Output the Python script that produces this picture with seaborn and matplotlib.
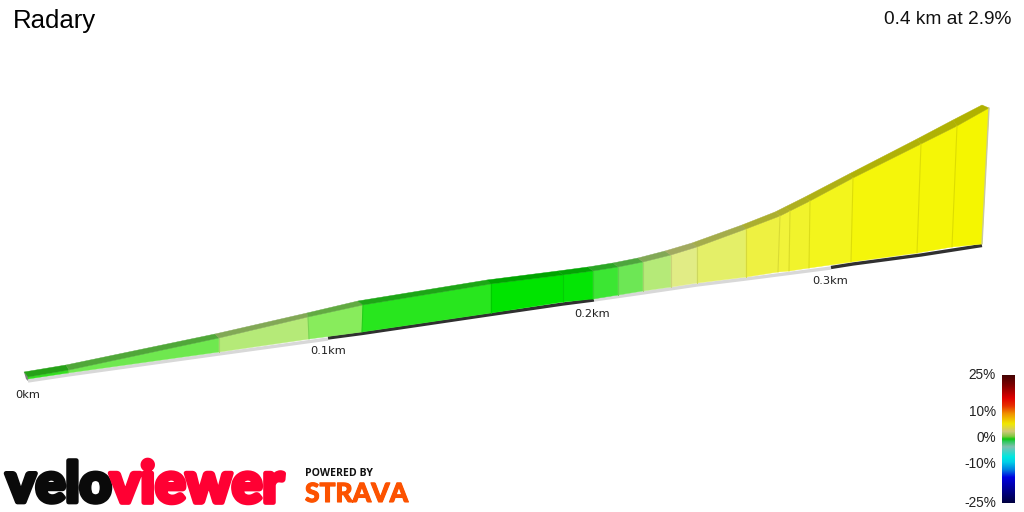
import numpy as np
import pandas as pd
import matplotlib
matplotlib.use("Agg")
import matplotlib.pyplot as plt
import matplotlib.patheffects as pe
from matplotlib.colors import LinearSegmentedColormap, to_rgb
import seaborn as sns

TITLE = "Radary"
SUMMARY = "0.4 km at 2.9%"

# Profile (pixel-space projection of the 3D ribbon)
base_x = [28, 68, 219, 309, 362, 491, 563, 593, 618, 643, 671, 697, 746, 778, 789, 809, 851, 917, 952, 982]
base_y = [379, 373, 352, 339, 332, 313, 302, 299, 295, 291, 287, 283, 277, 272, 271, 268, 262, 253, 247, 244]
top_x = [28, 69, 219, 308, 363, 491, 563, 593, 618, 643, 671, 697, 746, 780, 790, 810, 853, 921, 957, 989]
top_y = [377, 370, 338, 317, 305, 284, 275, 271, 267, 262, 255, 247, 229, 216, 211, 201, 178, 144, 126, 108]
back_x = [24, 66, 215, 307, 358, 487, 558, 588, 613, 638, 665, 692, 742, 775, 785, 805, 849, 917, 953, 982]
back_y = [372, 365, 334, 313, 301, 280, 271, 267, 263, 258, 251, 243, 225, 212, 207, 197, 174, 139, 120, 105]
segment_colors = ["#35df20", "#6fe84f", "#b5ea78", "#88ec5c", "#28e61e", "#00e400", "#04e505",
                  "#3ce633", "#6de755", "#b5ea78", "#e1ec85", "#e4ef68", "#eef141", "#f1f33a",
                  "#f1f32c", "#f3f51c", "#f5f60a", "#f5f606", "#f5f600"]

# Road strip under the ribbon, alternating every 0.1 km
strip_x = [[28, 68, 219, 328], [328, 362, 491, 563, 594], [594, 643, 697, 746, 831], [831, 853, 921, 982]]
strip_y = [[381, 375, 354, 339], [338, 333.5, 314.5, 304, 300], [300, 293, 285, 279, 268], [267.5, 264, 255, 245.5]]
strip_colors = ["#d8d8d8", "#303030", "#d8d8d8", "#303030"]

km_labels = ["0km", "0.1km", "0.2km", "0.3km"]
km_x = [28, 328, 592, 830]
km_y = [395, 351, 314, 281]

scale_ticks = [25, 10, 0, -10, -25]
scale_tick_y = [375, 412.5, 438.5, 463.5, 503]
scale_grades = [25, 21, 16, 13, 10, 6, 3, 1, 0, -1, -3, -7, -9, -12, -15, -19, -25]
scale_colors = ["#440404", "#800000", "#e00000", "#e83000", "#f09000", "#f0e800", "#d0c878", "#80c840", "#10c810",
                "#30c860", "#80c0b0", "#00e8e0", "#00d0e8", "#0080e0", "#0000e0", "#0000a0", "#000040"]

sns.set_theme(style="white", rc={"axes.facecolor": "white", "figure.facecolor": "white"})
plt.rcParams["font.family"] = ["Liberation Sans", "DejaVu Sans"]

fig = plt.figure(figsize=(10.24, 5.12), dpi=100)
ax = fig.add_axes([0, 0, 1, 1])
ax.set_xlim(0, 1024)
ax.set_ylim(512, 0)
ax.axis("off")


def shade(color, k):
    return tuple(np.clip(np.array(to_rgb(color)) * k, 0, 1))


# End cap at the start of the ribbon
ax.fill([24, 28, 29, 26], [372, 377, 382, 379], color="#808080", lw=0)

# Road strip
for xs, ys, c in zip(strip_x, strip_y, strip_colors):
    sns.lineplot(data=pd.DataFrame({"x": xs, "y": ys}), x="x", y="y", sort=False, color=c,
                 linewidth=2.4, ax=ax, solid_capstyle="butt", errorbar=None, estimator=None)

# Ribbon faces and top band
for i, c in enumerate(segment_colors):
    ax.fill([base_x[i], base_x[i + 1], top_x[i + 1], top_x[i]],
            [base_y[i], base_y[i + 1], top_y[i + 1], top_y[i]],
            facecolor=c, edgecolor=c, lw=0.3, zorder=3)
    band = shade(c, 0.72)
    ax.fill([top_x[i], top_x[i + 1], back_x[i + 1], back_x[i]],
            [top_y[i], top_y[i + 1], back_y[i + 1], back_y[i]],
            facecolor=band, edgecolor=band, lw=0.3, zorder=3)
    if i > 0:
        ax.plot([base_x[i], top_x[i]], [base_y[i], top_y[i]], color=shade(c, 0.9), lw=0.8, zorder=4)

# Right edge of the ribbon
ax.plot([top_x[-1], base_x[-1]], [top_y[-1], base_y[-1]], color="#c8c8a0", lw=1.0, zorder=4)

# Distance labels
for lab, x, y in zip(km_labels, km_x, km_y):
    ax.text(x, y, lab, ha="center", va="center", fontsize=8.2, family="DejaVu Sans", color="#202020", zorder=5)

# Titles
ax.text(13, 21, TITLE, ha="left", va="center", fontsize=18.5, color="black")
ax.text(1011, 19, SUMMARY, ha="right", va="center", fontsize=13.8, color="#111111")

# Grade colour scale
cmap = LinearSegmentedColormap.from_list(
    "grade", [((25 - g) / 50, c) for g, c in zip(scale_grades, scale_colors)])
ax.imshow(np.linspace(0, 1, 256)[:, None], cmap=cmap, aspect="auto", extent=(1002, 1015, 503, 375), zorder=2)
ax.set_xlim(0, 1024)
ax.set_ylim(512, 0)
for t, y in zip(scale_ticks, scale_tick_y):
    ax.text(996, y, f"{t}%", ha="right", va="center", fontsize=9.8, color="#222222")

# Logos
ax.text(6, 486, "velo", ha="left", va="center", fontsize=40, family="Lato", weight="black", color="#0a0a0a",
        path_effects=[pe.withStroke(linewidth=3.4, foreground="#0a0a0a")])
ax.text(110, 486, "viewer", ha="left", va="center", fontsize=41, family="Lato", weight="black", color="#ff0033",
        path_effects=[pe.withStroke(linewidth=3.4, foreground="#ff0033")])
ax.text(305, 474, "POWERED BY", ha="left", va="center", fontsize=7.6, family="Open Sans", weight="bold", color="#111111")
ax.text(305, 494, "STRAVA", ha="left", va="center", fontsize=19, family="Lato", weight="black", color="#fc5200",
        path_effects=[pe.withStroke(linewidth=0.8, foreground="#fc5200")])

fig.savefig("out.png", dpi=100)
